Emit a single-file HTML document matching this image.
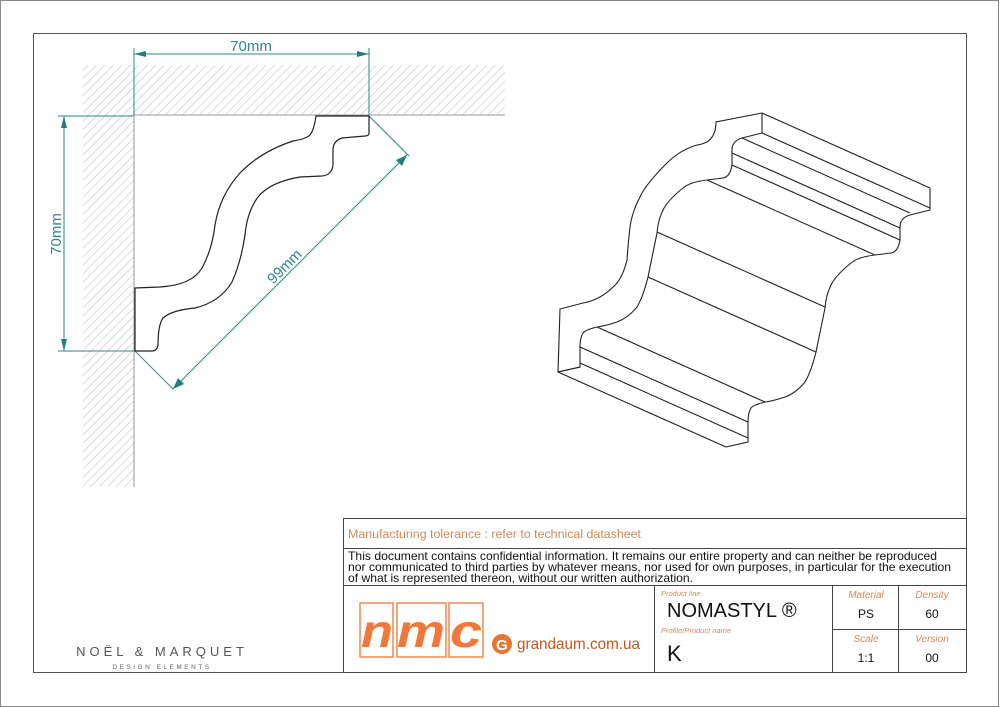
<!DOCTYPE html>
<html><head><meta charset="utf-8"><style>
html,body{margin:0;padding:0;background:#fff;}
svg{display:block;font-family:"Liberation Sans",sans-serif;}
</style></head><body>
<svg width="1000" height="707" viewBox="0 0 1000 707" xmlns="http://www.w3.org/2000/svg">
<defs>
<pattern id="h" patternUnits="userSpaceOnUse" width="6" height="6" patternTransform="rotate(45)">
<line x1="0" y1="0" x2="0" y2="6" stroke="#aaa" stroke-width="0.8"/>
</pattern>
</defs>
<rect x="0.5" y="0.5" width="998" height="706" fill="none" stroke="#888"/>
<rect x="33.5" y="33.5" width="933" height="639" fill="none" stroke="#555"/>

<rect x="83" y="65" width="422" height="50" fill="url(#h)"/>
<rect x="83" y="115" width="51" height="372" fill="url(#h)"/>
<rect x="134" y="115" width="371" height="372" fill="#fff"/>
<line x1="134" y1="115" x2="505" y2="115" stroke="#999"/>
<line x1="134" y1="115" x2="134" y2="487" stroke="#999"/>

<g stroke="#2a8a85" stroke-width="1" fill="none">
<line x1="134" y1="48" x2="134" y2="115"/><line x1="369" y1="48" x2="369" y2="115"/>
<line x1="134" y1="54" x2="369" y2="54"/>
<line x1="58" y1="116" x2="134" y2="116"/><line x1="58" y1="351" x2="134" y2="351"/>
<line x1="64" y1="116" x2="64" y2="351"/>
<line x1="369" y1="116" x2="409" y2="156"/><line x1="135" y1="351" x2="173" y2="389"/>
<line x1="173" y1="389" x2="407" y2="155"/>
</g>
<g fill="#1f7f7a">
<polygon points="134,54 146,51 146,57"/><polygon points="369,54 357,51 357,57"/>
<polygon points="64,116 61,128 67,128"/><polygon points="64,351 61,339 67,339"/>
<polygon points="173,389 178,378 184,384"/><polygon points="407,155 396,160 402,166"/>
</g>
<g fill="#2a8a85" font-size="15">
<text x="251" y="51" text-anchor="middle">70mm</text>
<text transform="translate(61,234) rotate(-90)" text-anchor="middle">70mm</text>
<text transform="translate(288,270) rotate(-45)" text-anchor="middle">99mm</text>
</g>

<path d="M316,116 L369,116 L369,133 Q369,136 365,136 L342,138 Q333,141 333,150 L333,165 Q332,175 322,176 L300,177 Q270,182 258,197 Q247,212 245,235 Q241,262 232,282 Q220,302 195,308 Q172,310 163,318 Q158,325 158,345 Q157,351 152,351 L135,351 L135,288 L160,287 Q192,285 202,268 Q212,250 215,225 Q220,195 240,173 Q260,152 293,141 Q306,139 310,135 Q314,130 316,116 Z" fill="#fff" stroke="#222" stroke-width="1.2"/>

<g fill="none" stroke="#222" stroke-width="1.1">
<path d="M762,113 L716,122 Q716,136 707,142 Q700,145 697,145 Q680,150 667,163 Q645,185 640,197 Q632,212 630,227 Q628,245 627,260 Q622,280 613,287 Q600,300 583,303 L560,309 L558,372 L580,367"/>
<path d="M762,113 L762,133 L742,138 Q732,141 732,150 L732,165 Q730,177 723,178 L707,180 Q690,182 683,188 Q668,200 663,210 Q658,220 657,233 L648,277 Q643,297 637,307 Q628,318 617,322 Q605,326 597,327 Q585,330 583,333 Q580,338 580,347 L580,367 L558,372"/>
<path d="M930,188 L930,210 L910,215 Q900,218 900,227 L900,240 Q898,252 891,253 L875,255 Q858,257 851,263 Q836,275 831,285 Q826,295 825,308 L816,352 Q811,372 805,382 Q796,393 785,397 Q773,401 765,402 Q753,405 751,408 Q748,413 748,422 L748,442 L726,447"/>
<line x1="762" y1="113" x2="930" y2="188"/>
<line x1="762" y1="133" x2="930" y2="208"/>
<line x1="742" y1="138" x2="910" y2="213"/>
<line x1="732" y1="153" x2="900" y2="228"/>
<line x1="732" y1="165" x2="900" y2="240"/>
<line x1="707" y1="180" x2="875" y2="255"/>
<line x1="657" y1="232" x2="825" y2="307"/>
<line x1="648" y1="277" x2="816" y2="352"/>
<line x1="597" y1="327" x2="765" y2="402"/>
<line x1="580" y1="347" x2="748" y2="422"/>
<line x1="580" y1="363" x2="748" y2="438"/>
<line x1="558" y1="372" x2="726" y2="447"/>
</g>

<text x="162" y="656" text-anchor="middle" font-size="13" letter-spacing="4" fill="#555">NOËL &amp; MARQUET</text>
<text x="162" y="669" text-anchor="middle" font-size="6.5" letter-spacing="2.5" fill="#666">DESIGN ELEMENTS</text>

<g stroke="#444" stroke-width="1" fill="none">
<rect x="343.5" y="518.5" width="623" height="154"/>
<line x1="343" y1="548.5" x2="967" y2="548.5"/>
<line x1="343" y1="585.5" x2="967" y2="585.5"/>
<line x1="654.5" y1="585" x2="654.5" y2="673"/>
<line x1="832.5" y1="585" x2="832.5" y2="673"/>
<line x1="898.5" y1="585" x2="898.5" y2="673"/>
<line x1="832" y1="629.5" x2="967" y2="629.5"/>
</g>
<text x="348" y="538" font-size="11.5" fill="#d08a5a" textLength="293" lengthAdjust="spacingAndGlyphs">Manufacturing tolerance : refer to technical datasheet</text>
<g font-size="12" fill="#111">
<text x="348" y="560" textLength="589" lengthAdjust="spacingAndGlyphs">This document contains confidential information. It remains our entire property and can neither be reproduced</text>
<text x="348" y="571" textLength="603" lengthAdjust="spacingAndGlyphs">nor communicated to third parties by whatever means, nor used for own purposes, in particular for the execution</text>
<text x="348" y="582" textLength="345" lengthAdjust="spacingAndGlyphs">of what is represented thereon, without our written authorization.</text>
</g>
<g stroke="#f08a4b" stroke-width="1.5" fill="none">
<rect x="360" y="603" width="33" height="54"/>
<rect x="397" y="603" width="49" height="54"/>
<rect x="449" y="603" width="34" height="54"/>
</g>
<g fill="#f0783a" font-size="46" font-weight="bold" font-style="italic">
<text x="361" y="647" textLength="32" lengthAdjust="spacingAndGlyphs">n</text>
<text x="397" y="647" textLength="48" lengthAdjust="spacingAndGlyphs">m</text>
<text x="450" y="647" textLength="32" lengthAdjust="spacingAndGlyphs">c</text>
</g>
<circle cx="502" cy="644" r="10" fill="#e8762c"/>
<text x="502" y="650" text-anchor="middle" font-size="15" font-weight="bold" fill="#fff">G</text>
<text x="517" y="649" font-size="16" fill="#c4581e" textLength="123" lengthAdjust="spacingAndGlyphs">grandaum.com.ua</text>

<g fill="#d08a5a" font-size="7.5" font-style="italic">
<text x="661" y="596">Product line</text>
<text x="661" y="633">Profile/Product name</text>
</g>
<text x="667" y="617" font-size="20" fill="#111">NOMASTYL ®</text>
<text x="667" y="661" font-size="22" fill="#111">K</text>
<g font-size="10" font-style="italic" fill="#d08a5a" text-anchor="middle">
<text x="866" y="598">Material</text><text x="932" y="598">Density</text>
<text x="866" y="642">Scale</text><text x="932" y="642">Version</text>
</g>
<g font-size="12" fill="#111" text-anchor="middle">
<text x="866" y="618">PS</text><text x="932" y="618">60</text>
<text x="866" y="662">1:1</text><text x="932" y="662">00</text>
</g>
</svg>
</body></html>
